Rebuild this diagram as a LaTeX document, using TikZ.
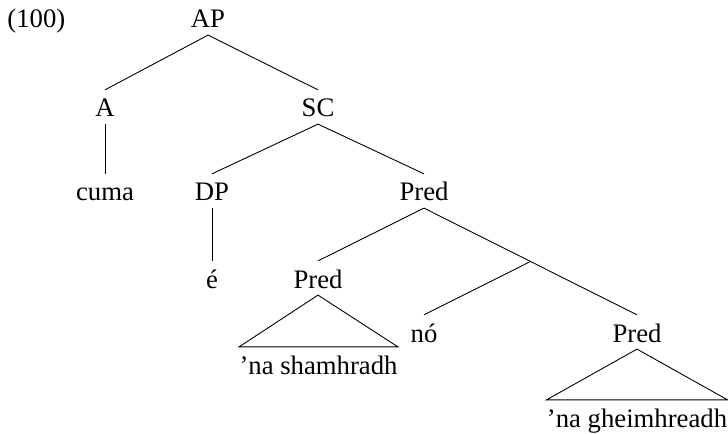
\documentclass[tikz,border=0pt]{standalone}
\usepackage{fontspec}
\setmainfont{Liberation Serif}
\usetikzlibrary{calc}

\tikzset{
  cat/.style={anchor=base, inner xsep=3pt, inner ysep=3pt, text height=9pt, text depth=0pt},
  leaf/.style={anchor=base, inner xsep=0pt, inner ysep=3pt, text height=9pt, text depth=0pt},
}

\begin{document}
\begin{tikzpicture}[x=0.4494pt, y=-0.4494pt, font=\fontsize{12}{14}\selectfont]
                \useasboundingbox (0, 0) rectangle (728, 434);

                \node [anchor=base west, inner sep=0pt] (exno) at (7, 28) {(100)};

                \node [cat] (ap) at (208, 28) {AP};
                \node [cat] (a) at (105, 117) {A};
                \node [cat] (sc) at (318, 117) {SC};
                \node [cat] (cuma) at (105, 201) {cuma};
                \node [cat] (dp) at (212, 201) {DP};
                \node [cat] (pred) at (424, 201) {Pred};
                \node [cat] (e) at (212, 288) {é};
                \node [cat] (predl) at (318, 288) {Pred};
                \node [cat] (no) at (424, 342) {nó};
                \node [cat] (predr) at (637, 342) {Pred};
                \node [leaf] (shamh) at (318.5, 374) {'na shamhradh};
                \node [leaf] (gheimh) at (637, 427) {'na gheimhreadh};

                \draw (ap.south) to (a.north);
                \draw (ap.south) to (sc.north);
                \draw (a.south) to (cuma.north);
                \draw (sc.south) to (dp.north);
                \draw (sc.south) to (pred.north);
                \draw (dp.south) to (e.north);

                \draw (pred.south) to (predl.north);
                \draw (pred.south) to (predr.north);
                \coordinate (conj) at ($(pred.south)!0.5!(predr.north)$);
                \draw (conj) to (no.north);

                \draw (predl.south) -- (shamh.north west) -- (shamh.north east) -- cycle;
                \draw (predr.south) -- (gheimh.north west) -- (gheimh.north east) -- cycle;
            \end{tikzpicture}
\end{document}
